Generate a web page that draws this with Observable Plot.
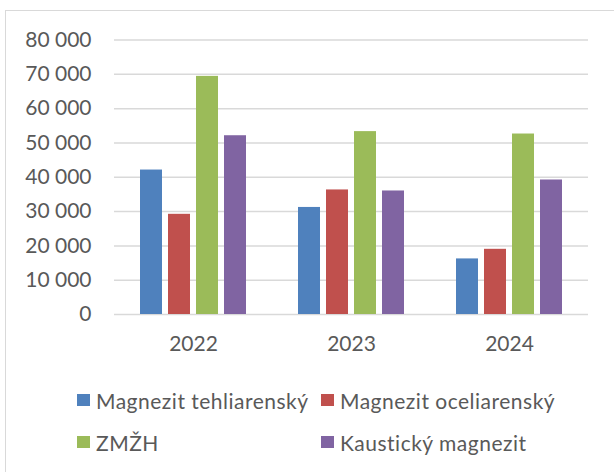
<!DOCTYPE html>
<html>
<head>
<meta charset="utf-8">
<script src="https://cdn.jsdelivr.net/npm/d3@7"></script>
<script src="https://cdn.jsdelivr.net/npm/@observablehq/plot@0.6"></script>
<style>
  html, body { margin: 0; padding: 0; background: #fff; overflow: hidden; }
  #wrap { position: relative; width: 614px; height: 472px; font-family: Lato, sans-serif; color: #595959; }
  #frame { position: absolute; left: 5px; top: 10px; width: 700px; height: 600px; border: 1.5px solid #d9d9d9; box-sizing: border-box; }
  #chart { position: absolute; left: 0; top: 0; }
  .leg { position: absolute; display: flex; align-items: center; font-size: 21px; letter-spacing: 0.5px; white-space: nowrap; }
  .sw { width: 13px; height: 12px; margin-right: 6px; }
</style>
</head>
<body>
<div id="wrap">
  <div id="frame"></div>
  <div id="chart"></div>
  <div id="legend"></div>
</div>
<script>
const years = ["2022", "2023", "2024"];
const series = ["Magnezit tehliarenský", "Magnezit oceliarenský", "ZMŽH", "Kaustický magnezit"];
const tehliarensky = [42100, 31200, 16200];
const oceliarensky = [29200, 36300, 19000];
const zmzh = [69400, 53300, 52600];
const kausticky = [52100, 36000, 39200];
const colors = ["#4F81BD", "#C0504D", "#9BBB59", "#8064A2"];
const yTicks = [0, 10000, 20000, 30000, 40000, 50000, 60000, 70000, 80000];

const seriesValues = [tehliarensky, oceliarensky, zmzh, kausticky];
const data = [];
years.forEach((yr, i) => {
  series.forEach((s, j) => data.push({ year: yr, series: s, value: seriesValues[j][i] }));
});

const locale = d3.formatLocale({ decimal: ",", thousands: "\u00a0", grouping: [3], currency: ["", ""] });
const fmt = locale.format(",d");

const chart = Plot.plot({
  width: 614,
  height: 360,
  marginLeft: 113,
  marginRight: 25,
  marginTop: 39.5,
  marginBottom: 46,
  style: { fontFamily: "Lato, sans-serif", fontSize: "21px", color: "#595959", background: "transparent" },
  fx: { domain: years, padding: 0, label: null, axis: "bottom", tickSize: 0, tickPadding: 22 },
  x: { domain: series, paddingInner: 0.216, paddingOuter: 0.87, axis: null },
  y: { domain: [0, 80000], ticks: yTicks, tickFormat: fmt, tickSize: 0, tickPadding: 23, label: null },
  color: { domain: series, range: colors },
  marks: [
    Plot.ruleY(yTicks, { stroke: "#d9d9d9", strokeWidth: 1.5 }),
    Plot.barY(data, { fx: "year", x: "series", y: "value", fill: "series" })
  ]
});
document.getElementById("chart").appendChild(chart);

const legendPos = [[77, 400], [321, 400], [77, 442], [321, 442]];
const legend = document.getElementById("legend");
series.forEach((s, i) => {
  const d = document.createElement("div");
  d.className = "leg";
  d.style.left = legendPos[i][0] + "px";
  d.style.top = (legendPos[i][1] - 14) + "px";
  d.style.height = "28px";
  const sw = document.createElement("div");
  sw.className = "sw";
  sw.style.background = colors[i];
  const t = document.createElement("span");
  t.textContent = s;
  d.appendChild(sw);
  d.appendChild(t);
  legend.appendChild(d);
});
</script>
</body>
</html>
